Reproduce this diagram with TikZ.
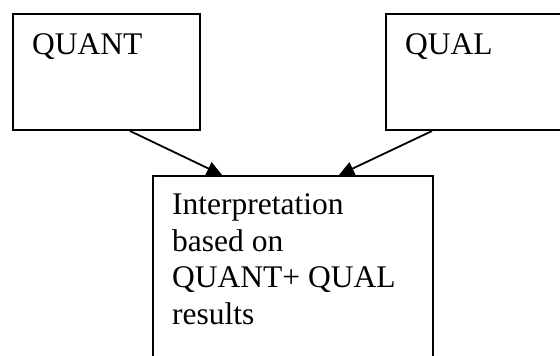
\documentclass[tikz,border=0pt]{standalone}
\usepackage{fontspec}
\setmainfont{Liberation Serif}
\usetikzlibrary{arrows.meta}
\begin{document}
\begin{tikzpicture}[x=1pt,y=-1pt,
  box/.style={draw,line width=2pt,fill=white,rectangle,inner sep=0pt,anchor=north west},
  txt/.style={font=\fontsize{31.5}{36.5}\selectfont,inner sep=0pt},
  conn/.style={line width=1.8pt,-{Triangle[length=15pt,width=14pt]}}]
\useasboundingbox (0,0) rectangle (560,356);
\clip (0,0) rectangle (560,356);
\node[box,minimum width=187pt,minimum height=116pt] (quant) at (12,13) {};
\node[box,minimum width=190pt,minimum height=116pt] (qual) at (385,13) {};
\node[box,minimum width=280pt,minimum height=240pt] (res) at (152,175) {};
\coordinate (qa) at ([xshift=118pt]quant.south west);
\coordinate (qb) at ([xshift=47pt]qual.south west);
\coordinate (ra) at ([xshift=70pt]res.north west);
\coordinate (rb) at ([xshift=187pt]res.north west);
\draw[conn] (qa) -- (ra);
\draw[conn] (qb) -- (rb);
\node[txt,anchor=base west] (tquant) at (32,54) {QUANT};
\node[txt,anchor=base west] (tqual) at (405,54) {QUAL};
\node[txt,anchor=north west,align=left] (tres) at (172,193.5) {Interpretation\\based on\\QUANT+ QUAL\\results};
\end{tikzpicture}
\end{document}
